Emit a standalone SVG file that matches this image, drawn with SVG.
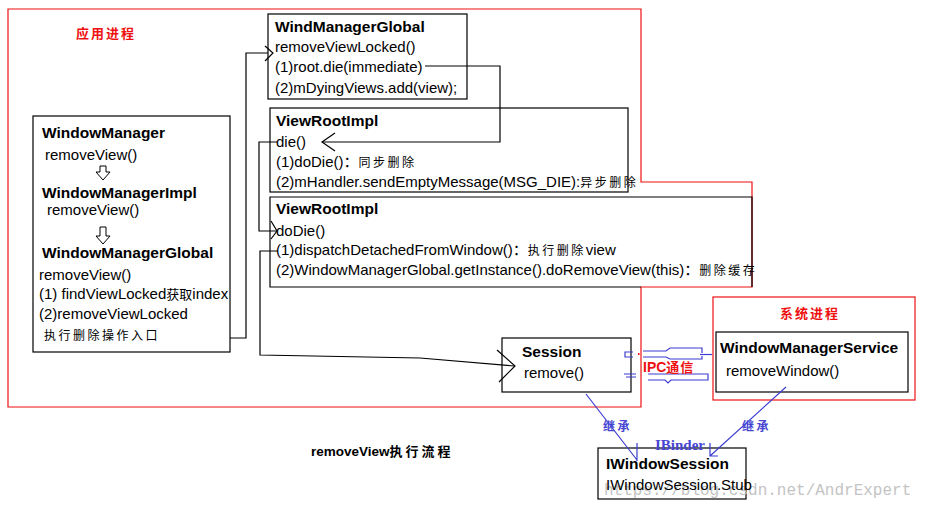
<svg xmlns="http://www.w3.org/2000/svg" width="925" height="508" viewBox="0 0 925 508">
<style>
.bx{fill:#fff;stroke:#000;stroke-width:1.2}
.t{font-family:"Liberation Sans","Noto Sans CJK SC",sans-serif;font-size:15px;fill:#000}
.b{font-family:"Liberation Sans","Noto Sans CJK SC",sans-serif;font-size:15.5px;font-weight:bold;fill:#000}
.cj{font-family:"Noto Sans CJK SC",sans-serif;font-size:12px;letter-spacing:2.5px}
.red{font-family:"Noto Sans CJK SC",sans-serif;font-size:13px;font-weight:bold;fill:#ee1111;letter-spacing:2px}
.blue{font-family:"Noto Sans CJK SC",sans-serif;font-size:12px;font-weight:bold;fill:#4646d2;letter-spacing:2.5px}
.ln{fill:none;stroke:#000;stroke-width:1.2}
.bl{fill:none;stroke:#3c3cd0;stroke-width:1.2}
.rb{fill:none;stroke:#ee1111;stroke-width:1.2}
.ha{fill:#fff;stroke:#000;stroke-width:1}
</style>

<!-- process frames -->
<g id="app-process">
<path class="rb" d="M8,9 H641 V182 H752 V287 H641 V407 H8 Z"/>
<text class="red" x="76" y="38">应用进程</text>
</g>
<g id="system-process">
<rect class="rb" x="713" y="297" width="202" height="103"/>
<text class="red" x="780" y="318">系统进程</text>
</g>

<g id="windowManager">
<rect class="bx" x="33" y="116" width="197" height="236"/>
<text class="b" x="42" y="138">WindowManager</text>
<text class="t" x="45" y="160">removeView()</text>
<polygon class="ha" points="100,166 106,166 106,172 110,172 103,180 96,172 100,172"/>
<text class="b" x="42" y="198">WindowManagerImpl</text>
<text class="t" x="47" y="215">removeView()</text>
<polygon class="ha" points="100,227 106,227 106,236 110,236 103,244 96,236 100,236"/>
<text class="b" x="42" y="258">WindowManagerGlobal</text>
<text class="t" x="39" y="280">removeView()</text>
<text class="t" x="39" y="299">(1) findViewLocked<tspan font-size="13px">获取</tspan>index</text>
<text class="t" x="39" y="319">(2)removeViewLocked</text>
<text class="t cj" x="44" y="340">执行删除操作入口</text>
</g>

<g id="windManagerGlobal">
<rect class="bx" x="268" y="14" width="199" height="85"/>
<text class="b" x="275" y="32">WindManagerGlobal</text>
<text class="t" x="275" y="52">removeViewLocked()</text>
<text class="t" x="275" y="72">(1)root.die(immediate)</text>
<text class="t" x="275" y="93">(2)mDyingViews.add(view);</text>
</g>

<g id="viewRootImpl-die">
<rect class="bx" x="270" y="108" width="358" height="84"/>
<text class="b" x="276" y="126">ViewRootImpl</text>
<text class="t" x="276" y="147">die()</text>
<text class="t" x="276" y="167">(1)doDie()：<tspan class="cj">同步删除</tspan></text>
<text class="t" x="276" y="187">(2)mHandler.sendEmptyMessage(MSG_DIE):<tspan class="cj">异步删除</tspan></text>
</g>

<g id="viewRootImpl-doDie">
<path class="ln" d="M641,287 H270 V197 H752 V287"/>
<text class="b" x="276" y="214">ViewRootImpl</text>
<text class="t" x="276" y="236">doDie()</text>
<text class="t" x="276" y="255">(1)dispatchDetachedFromWindow()：<tspan class="cj">执行删除</tspan>view</text>
<text class="t" x="276" y="275">(2)WindowManagerGlobal.getInstance().doRemoveView(this)：<tspan class="cj">删除缓存</tspan></text>
</g>

<g id="session">
<rect class="bx" x="502" y="338" width="129" height="54"/>
<text class="b" x="522" y="357" font-size="13.5px">Session</text>
<text class="t" x="524" y="378" font-size="14.5px">remove()</text>
</g>

<g id="windowManagerService">
<rect class="bx" x="716" y="332" width="192" height="60"/>
<text class="b" x="720" y="353">WindowManagerService</text>
<text class="t" x="726" y="376">removeWindow()</text>
</g>

<g id="iWindowSession">
<rect class="bx" x="598" y="448" width="148" height="51"/>
<text x="604" y="495" font-family="'Liberation Mono',monospace" font-size="16px" fill="#c4c4c4">https://blog.csdn.net/AndrExpert</text>
<text class="b" x="606" y="469" font-size="13.5px">IWindowSession</text>
<text class="t" x="606" y="490" font-size="14px">IWindowSession.Stub</text>
</g>

<g id="connectors">
<path class="ln" d="M230,338 H246 V53 H268"/>
<path class="ln" d="M265,46 L273,53 L265,61"/>
<path class="ln" d="M425,66 H500 V142 H322"/>
<path class="ln" d="M335,133 L322,142 L335,151"/>
<path class="ln" d="M277,142 H259 V231 H277"/>
<path class="ln" d="M271,221 L277,231 L271,239"/>
<path class="ln" d="M278,251 H260 V355 L420,358 L514,366"/>
<path class="ln" d="M497,350 L515,366 L499,382"/>
<path class="bl" d="M586,394 L637,460 M637,443 V461"/>
<path class="bl" d="M786,387 L710,456 M710,443 V456 H718"/>
<path class="bl" d="M633,352 H625 V357 H633"/>
<path class="bl" d="M643,351 H666 L670,348 H702 V353 M643,357 H666 L670,359 H702 V356"/>
<path class="bl" d="M700,354.5 H712" stroke-width="2.5"/>
<path class="bl" d="M648,374 H708 V380 H671 L668,383 L665,380 H648"/>
<path class="bl" d="M624,374 H636 M626,377 H636"/>
<rect x="638" y="353" width="1.5" height="2" fill="#ee1111"/>
</g>

<g id="labels">
<text x="643" y="372" font-family="'Liberation Sans','Noto Sans CJK SC',sans-serif" font-size="14px" font-weight="bold" fill="#ee1111">IPC<tspan font-family="'Noto Sans CJK SC',sans-serif" font-size="13px" letter-spacing="1px">通信</tspan></text>
<text class="blue" x="603" y="431">继承</text>
<text class="blue" x="742" y="431">继承</text>
<text x="655" y="450" font-family="'Liberation Serif',serif" font-size="15px" font-weight="bold" fill="#4646d2">IBinder</text>
<text x="311" y="456" font-family="'Liberation Sans','Noto Sans CJK SC',sans-serif" font-size="13.5px" font-weight="bold" fill="#000">removeView<tspan font-family="'Noto Sans CJK SC',sans-serif" font-size="13px" letter-spacing="3px">执行流程</tspan></text>
</g>
</svg>
